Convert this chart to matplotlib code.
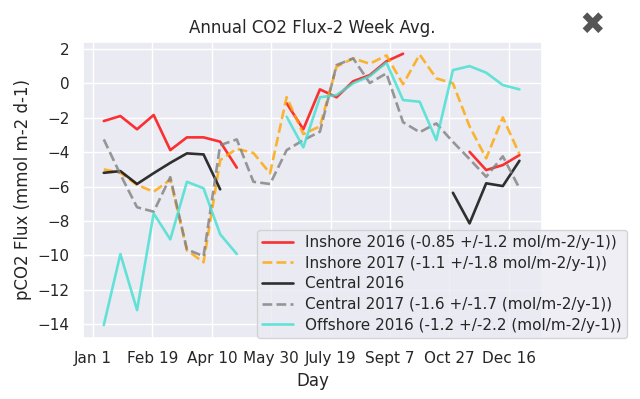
import numpy as np
import matplotlib
matplotlib.use("Agg")
import matplotlib.pyplot as plt
import seaborn as sns

sns.set_theme(style="darkgrid", context="notebook")
plt.rcParams['font.family'] = ['DejaVu Sans']

nan = np.nan
# day of year of each 2-week average
days = [9, 23, 37, 51, 65, 79, 93, 107, 121, 135, 149, 163, 177,
        191, 205, 219, 233, 247, 261, 275, 289, 303, 317, 331, 345, 359]

inshore_2016 = [-2.19, -1.90, -2.67, -1.84, -3.88, -3.14, -3.14, -3.39, -4.90,
                nan, nan, -1.16, -2.67, -0.35, -0.81, 0.12, 0.48, 1.28, 1.72,
                nan, nan, nan, -3.98, -5.04, -4.75, -4.17]
inshore_2017 = [-5.00, -5.20, -5.90, -6.30, -5.60, -9.70, -10.40, -4.46, -3.80,
                -4.05, -5.23, -0.80, -2.95, -2.50, 0.97, 1.45, 1.14, 1.62, -0.05,
                1.67, 0.29, 0.00, -2.50, -4.36, -1.98, -4.11]
central_2016 = [-5.20, -5.10, -5.85, -5.22, -4.62, -4.07, -4.13, -6.16,
                nan, nan, nan, nan, nan, nan, nan, nan, nan, nan, nan, nan, nan,
                -6.36, -8.14, -5.81, -5.97, -4.50]
central_2017 = [-3.26, -5.30, -7.20, -7.46, -5.45, -9.65, -10.05, -3.59, -3.26,
                -5.72, -5.85, -3.88, -3.30, -2.81, 1.06, 1.45, 0.02, 0.58, -2.26,
                -2.84, -2.33, -3.40, -4.40, -5.43, -4.24, -6.10]
offshore_2016 = [-14.05, -9.92, -13.18, -7.56, -9.07, -5.72, -6.10, -8.77, -9.92,
                 nan, nan, -1.94, -3.72, -0.81, -0.68, 0.00, 0.42, 1.20, -0.97,
                 -1.07, -3.30, 0.77, 1.00, 0.62, -0.10, -0.35]

labels = ["Inshore 2016 (-0.85 +/-1.2 mol/m-2/y-1))",
          "Inshore 2017 (-1.1 +/-1.8 mol/m-2/y-1))",
          "Central 2016",
          "Central 2017 (-1.6 +/-1.7 (mol/m-2/y-1))",
          "Offshore 2016 (-1.2 +/-2.2 (mol/m-2/y-1))"]
tick_days = [0, 50, 100, 150, 200, 250, 300, 350]
tick_labels = ["Jan 1", "Feb 19", "Apr 10", "May 30", "July 19", "Sept 7", "Oct 27", "Dec 16"]

fig = plt.figure(figsize=(6.4, 3.99), dpi=100)
ax = fig.add_axes([83/640, 1-338/399, (542-83)/640, (338-41.7)/399])

series = [inshore_2016, inshore_2017, central_2016, central_2017, offshore_2016]
colors = ["red", "orange", "black", "gray", "turquoise"]
styles = ["-", "--", "-", "--", "-"]
for s, c, ls, lab in zip(series, colors, styles, labels):
    ax.plot(days, s, color=c, ls=ls, lw=1.9, alpha=0.8, label=lab)

ax.set_xlim(-8.5, 378)
ax.set_ylim(-14.8, 2.42)
ax.set_xticks(tick_days)
ax.set_xticklabels(tick_labels, fontsize=11)
ax.set_yticks(np.arange(-14, 3, 2))
ax.tick_params(axis='y', labelsize=11)
ax.set_xlabel("Day", fontsize=12)
ax.set_ylabel("pCO2 Flux (mmol m-2 d-1)", fontsize=12)
ax.set_title("Annual CO2 Flux-2 Week Avg.", fontsize=12)

leg = ax.legend(loc="lower left", bbox_to_anchor=(257/640, 1-338/399),
                bbox_transform=fig.transFigure, borderaxespad=0, fontsize=11,
                labelspacing=0.37, borderpad=0.35)

fig.text(592/640, 1-25/399, "\u2716", fontsize=22, color="#555555",
         ha="center", va="center")

fig.savefig("out.png", dpi=100)
